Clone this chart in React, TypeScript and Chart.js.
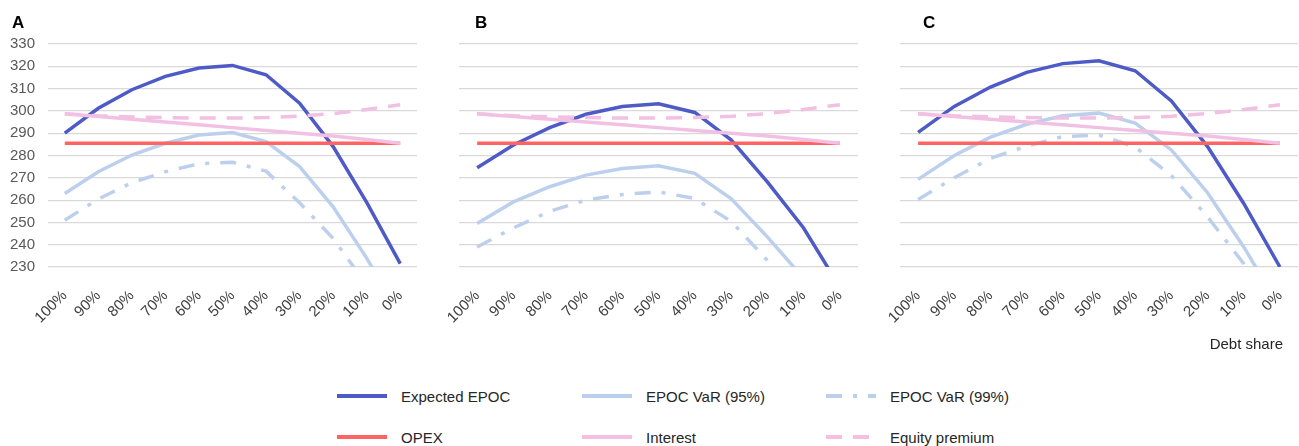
import React, { useEffect, useRef } from 'react';
import { Chart, registerables } from 'chart.js';

Chart.register(...registerables);

// ---- data ----
const categories = ['100%', '90%', '80%', '70%', '60%', '50%', '40%', '30%', '20%', '10%', '0%'];

const opex = [285.5, 285.5, 285.5, 285.5, 285.5, 285.5, 285.5, 285.5, 285.5, 285.5, 285.5];
const interest = [298.7, 297.5, 296.3, 295.0, 293.8, 292.5, 291.2, 290.0, 288.7, 287.2, 285.5];
const equityPremium = [298.7, 297.8, 297.3, 297.0, 296.8, 296.8, 297.0, 297.6, 298.8, 300.6, 302.8];

const expectedA = [290.0, 301.2, 309.5, 315.5, 319.2, 320.4, 316.2, 303.5, 284.0, 259.0, 231.5];
const var95A = [263.0, 272.7, 280.2, 285.5, 289.2, 290.3, 286.2, 275.0, 257.0, 234.0, 208.0];
const var99A = [251.0, 260.5, 267.8, 272.7, 276.3, 277.0, 273.0, 258.8, 242.8, 222.0, 192.0];

const expectedB = [274.5, 284.7, 292.5, 298.5, 302.0, 303.2, 299.3, 287.0, 268.2, 247.5, 221.0];
const var95B = [249.5, 259.2, 266.0, 271.2, 274.2, 275.4, 272.0, 260.7, 243.5, 225.0, 198.0];
const var99B = [239.0, 247.5, 255.0, 260.0, 262.5, 263.7, 260.7, 250.5, 233.0, 213.0, 185.0];

const expectedC = [290.4, 302.0, 310.7, 317.3, 321.2, 322.5, 318.0, 304.5, 284.0, 258.5, 230.0];
const var95C = [269.3, 280.0, 288.2, 294.0, 297.8, 299.0, 294.5, 282.5, 263.3, 239.0, 212.0];
const var99C = [260.3, 270.0, 278.7, 284.2, 288.5, 289.2, 283.8, 271.0, 252.5, 231.5, 200.0];

const yMin = 230;
const yMax = 330;
const yStep = 10;

const panelTitles = ['A', 'B', 'C'];
const seriesNames = ['Expected EPOC', 'EPOC VaR (95%)', 'EPOC VaR (99%)', 'OPEX', 'Interest', 'Equity premium'];
const xAxisTitle = 'Debt share';

// ---- styles ----
const FONT = '"Liberation Sans", Arial, Helvetica, sans-serif';
const COLORS = ['#4E5BC6', '#BCD0EE', '#BCD0EE', '#FF6464', '#F2C0E2', '#F2C0E2'];
const DASHES: number[][] = [[], [], [16, 11, 4, 11], [], [], [16, 11]];
const LINE_W = 3.5;

type PanelProps = {
  expected: number[];
  var95: number[];
  var99: number[];
  showY: boolean;
  left: number;
  width: number;
  yWidth: number;
  padRight: number;
};

function Panel({ expected, var95, var99, showY, left, width, yWidth, padRight }: PanelProps) {
  const ref = useRef<HTMLCanvasElement | null>(null);
  useEffect(() => {
    if (!ref.current) return;
    const series = [expected, var95, var99, opex, interest, equityPremium];
    const chart = new Chart(ref.current, {
      type: 'line',
      data: {
        labels: categories,
        datasets: series.map((d, i) => ({
          label: seriesNames[i],
          data: d,
          borderColor: COLORS[i],
          backgroundColor: COLORS[i],
          borderWidth: LINE_W,
          borderDash: DASHES[i],
          pointRadius: 0,
          pointHoverRadius: 0,
          tension: 0,
          fill: false,
          order: 10 - i,
        })),
      },
      options: {
        animation: false,
        responsive: false,
        maintainAspectRatio: false,
        devicePixelRatio: 1,
        events: [],
        layout: { padding: { top: 44, left: 0, right: padRight, bottom: 0 } },
        plugins: {
          legend: { display: false },
          tooltip: { enabled: false },
          title: { display: false },
        },
        scales: {
          x: {
            type: 'category',
            offset: true,
            grid: { display: false, drawTicks: false },
            border: { display: false },
            ticks: {
              autoSkip: false,
              minRotation: 45,
              maxRotation: 45,
              padding: 20,
              color: '#404040',
              font: { size: 15, family: FONT },
            },
            afterFit: (s: any) => {
              s.height = 73;
              s.paddingLeft = 0;
              s.paddingRight = 0;
            },
          },
          y: {
            min: yMin,
            max: yMax,
            grid: { color: '#D9D9D9', lineWidth: 1.2, drawTicks: false },
            border: { display: false },
            ticks: {
              display: showY,
              stepSize: yStep,
              padding: 13,
              color: '#595959',
              font: { size: 15, family: FONT },
            },
            afterFit: (s: any) => {
              s.width = yWidth;
              s.paddingTop = 0;
              s.paddingBottom = 0;
            },
          },
        },
      },
    } as any);
    return () => chart.destroy();
  }, []);
  return (
    <canvas
      ref={ref}
      width={width}
      height={340}
      style={{ position: 'absolute', left, top: 0, width, height: 340 }}
    />
  );
}

function LegendSample({ color, dash }: { color: string; dash: number[] }) {
  return (
    <svg width={50} height={6} style={{ display: 'block' }}>
      <line
        x1={0}
        y1={3}
        x2={50}
        y2={3}
        stroke={color}
        strokeWidth={4}
        strokeDasharray={dash.length ? dash.join(' ') : undefined}
      />
    </svg>
  );
}

export default function App() {
  const legendCols = [337, 582, 826];
  const legendRows = [396, 437];
  return (
    <div
      style={{
        position: 'absolute',
        left: 0,
        top: 0,
        width: 1299,
        height: 446,
        background: '#ffffff',
        fontFamily: FONT,
        overflow: 'hidden',
      }}
    >
      <Panel expected={expectedA} var95={var95A} var99={var99A} showY={true} left={0} width={440} yWidth={48} padRight={23} />
      <Panel expected={expectedB} var95={var95B} var99={var99B} showY={false} left={440} width={440} yWidth={19} padRight={22} />
      <Panel expected={expectedC} var95={var95C} var99={var99C} showY={false} left={880} width={419} yWidth={20} padRight={1} />

      {panelTitles.map((t, i) => (
        <div
          key={t}
          style={{
            position: 'absolute',
            left: [12, 475, 923][i],
            top: 14,
            fontSize: 17,
            lineHeight: '17px',
            fontWeight: 700,
            color: '#000',
          }}
        >
          {t}
        </div>
      ))}

      <div
        style={{
          position: 'absolute',
          right: 16,
          top: 336,
          fontSize: 15,
          lineHeight: '15px',
          color: '#262626',
          whiteSpace: 'nowrap',
        }}
      >
        {xAxisTitle}
      </div>

      {seriesNames.map((name, i) => {
        const col = i % 3;
        const row = Math.floor(i / 3);
        return (
          <div
            key={name}
            style={{
              position: 'absolute',
              left: legendCols[col],
              top: legendRows[row] - 10,
              height: 20,
              display: 'flex',
              alignItems: 'center',
              whiteSpace: 'nowrap',
            }}
          >
            <LegendSample color={COLORS[i]} dash={DASHES[i]} />
            <span style={{ marginLeft: 14, fontSize: 15, color: '#262626' }}>{name}</span>
          </div>
        );
      })}
    </div>
  );
}
